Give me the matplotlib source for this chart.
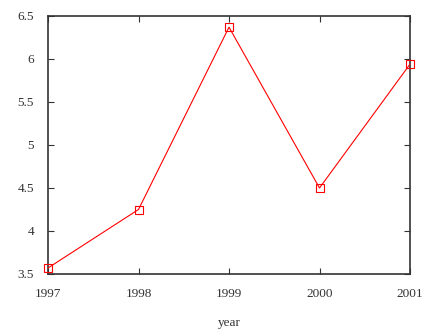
import matplotlib.pyplot as plt

years = [1997, 1998, 1999, 2000, 2001]
values = [3.57, 4.25, 6.37, 4.5, 5.94]
xticks = [1997, 1998, 1999, 2000, 2001]
yticks = [3.5, 4, 4.5, 5, 5.5, 6, 6.5]
ytick_labels = ["3.5", "4", "4.5", "5", "5.5", "6", "6.5"]

plt.rcParams['font.family'] = ['Liberation Serif', 'DejaVu Serif']

fig = plt.figure(figsize=(4.22, 3.35), dpi=100)
ax = fig.add_axes([48 / 422, 61 / 335, 362 / 422, 258 / 335])

ax.plot(years, values, color='red', linewidth=0.8, marker='s', markersize=5.5,
        markerfacecolor='none', markeredgecolor='red', markeredgewidth=0.8,
        clip_on=False, zorder=3)

ax.set_xlim(1997, 2001)
ax.set_ylim(3.5, 6.5)
ax.set_xticks(xticks)
ax.set_xticklabels([str(y) for y in xticks])
ax.set_yticks(yticks)
ax.set_yticklabels(ytick_labels)
ax.tick_params(direction='in', top=True, right=True, length=4, width=0.8,
               labelsize=9.5, colors='#333333', pad=10)
for s in ax.spines.values():
    s.set_linewidth(1.2)
    s.set_color('#333333')

ax.set_xlabel("year", fontsize=9.5, labelpad=12, color='#333333')

fig.savefig("out.png", dpi=100)
